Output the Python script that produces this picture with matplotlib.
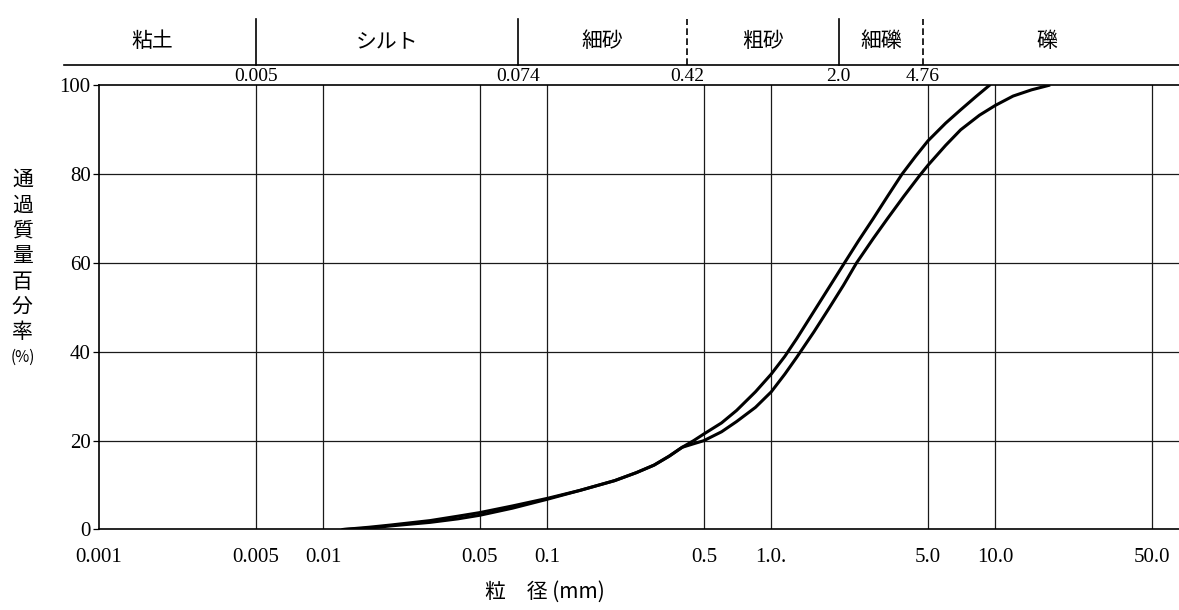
import numpy as np
import matplotlib
matplotlib.use('Agg')
import matplotlib.pyplot as plt

plt.rcParams['font.family'] = ['Liberation Serif', 'Noto Sans CJK JP', 'DejaVu Sans']

# grain size accumulation curves (two samples)
size_a = [0.0123, 0.016, 0.02, 0.03, 0.04, 0.05, 0.07, 0.1, 0.14, 0.2, 0.25, 0.3, 0.35, 0.4,
          0.45, 0.5, 0.6, 0.7, 0.85, 1.0, 1.15, 1.3, 1.59, 2.12, 2.45, 2.85, 3.3, 3.83,
          4.4, 5.0, 6.0, 7.0, 8.2, 9.4]
pass_a = [0, 0.5, 1.0, 2.0, 3.0, 3.8, 5.3, 7.0, 8.8, 11.0, 12.8, 14.5, 16.5, 18.5,
          20.0, 21.5, 24.0, 26.8, 31.0, 35.0, 39.0, 43.0, 50.0, 60.0, 65.0, 70.0, 75.0, 80.0,
          84.0, 87.5, 91.5, 94.5, 97.5, 100]

size_b = [0.0123, 0.016, 0.02, 0.03, 0.04, 0.05, 0.07, 0.1, 0.14, 0.2, 0.25, 0.3, 0.35, 0.4,
          0.45, 0.5, 0.6, 0.7, 0.85, 1.0, 1.15, 1.3, 1.55, 1.82, 2.1, 2.4, 2.85, 3.3, 3.9,
          4.56, 5.0, 6.0, 7.0, 8.5, 10.0, 12.0, 14.5, 17.3]
pass_b = [0, 0.3, 0.8, 1.6, 2.4, 3.2, 4.8, 6.8, 8.8, 11.0, 12.8, 14.5, 16.5, 18.5,
          19.3, 20.0, 22.0, 24.3, 27.5, 31.0, 35.0, 38.8, 44.5, 50.0, 55.0, 60.0, 65.5, 70.0, 75.0,
          79.5, 82.0, 86.5, 90.0, 93.3, 95.5, 97.6, 99.0, 100]

x_ticks = [0.001, 0.005, 0.01, 0.05, 0.1, 0.5, 1.0, 5.0, 10.0, 50.0]
x_ticklabels = ['0.001', '0.005', '0.01', '0.05', '0.1', '0.5', '1.0.', '5.0', '10.0', '50.0']
y_ticks = [0, 20, 40, 60, 80, 100]

# soil classes on top band
band_edges = [0.005, 0.074, 0.42, 2.0, 4.76]
band_edge_labels = ['0.005', '0.074', '0.42', '2.0', '4.76']
band_edge_dashed = [False, False, True, False, True]
band_names = ['粘土', 'シルト', '細砂', '粗砂', '細礫', '礫']

jp = ['Noto Sans CJK JP', 'DejaVu Sans']

fig = plt.figure(figsize=(11.79, 6.10), dpi=100)
ax = fig.add_axes([0.084, 0.132, 0.916, 0.728])
ax.set_xscale('log')
ax.set_xlim(0.001, 66)
ax.set_ylim(0, 100)

for xv in x_ticks[1:]:
    ax.axvline(xv, color='#1a1a1a', lw=0.9, zorder=1)
for yv in y_ticks[1:-1]:
    ax.axhline(yv, color='#1a1a1a', lw=0.9, zorder=1)

ax.plot(size_a, pass_a, color='black', lw=2.2, solid_joinstyle='round', zorder=3)
ax.plot(size_b, pass_b, color='black', lw=2.2, solid_joinstyle='round', zorder=3)

ax.set_xticks(x_ticks)
ax.set_xticklabels(x_ticklabels)
ax.xaxis.set_minor_locator(matplotlib.ticker.NullLocator())
ax.tick_params(axis='x', length=0, pad=13, labelsize=15)
ax.set_yticks(y_ticks)
ax.tick_params(axis='y', length=4, width=0.9, pad=2, labelsize=15)
for s in ['left', 'bottom', 'top']:
    ax.spines[s].set_linewidth(1.2)
ax.spines['right'].set_visible(False)

# top classification band
tr = ax.get_xaxis_transform()
ax.plot([-0.032, 1.0], [1.046, 1.046], transform=ax.transAxes, color='black',
        lw=1.2, clip_on=False)
for xv, lab, dashed in zip(band_edges, band_edge_labels, band_edge_dashed):
    ax.plot([xv, xv], [1.046, 1.15], transform=tr, color='black', lw=1.2,
            ls=(0, (4, 2)) if dashed else '-', clip_on=False)
    ax.text(xv, 1.02, lab, transform=tr, ha='center', va='center', fontsize=14)

bounds = [0.0006] + band_edges + [60]
for lo, hi, name in zip(bounds[:-1], bounds[1:], band_names):
    ax.text(np.sqrt(lo * hi), 1.1, name, transform=tr, ha='center', va='center',
            fontsize=15, family=jp)

# axis titles
fig.text(0.019, 0.58, '通\n過\n質\n量\n百\n分\n率', ha='center', va='center',
         fontsize=15, linespacing=1.2, family=jp)
fig.text(0.019, 0.415, '(%)', ha='center', va='center', fontsize=11, family=jp)
fig.text(0.462, 0.03, '粒　径 (mm)', ha='center', va='center', fontsize=15, family=jp)

fig.savefig('out.png', dpi=100)
